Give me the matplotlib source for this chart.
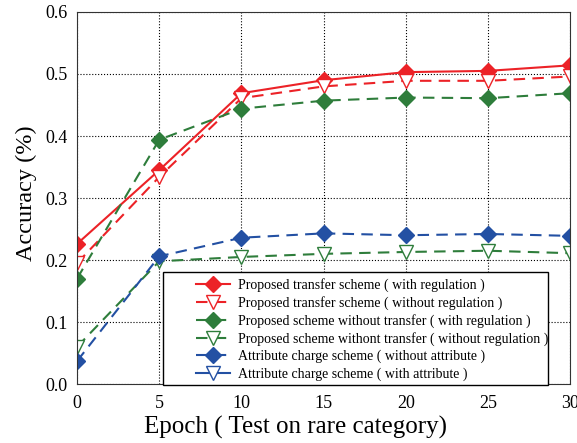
import matplotlib.pyplot as plt
from matplotlib.lines import Line2D
from matplotlib.patches import Rectangle

plt.rcParams['font.family'] = ['Liberation Serif', 'DejaVu Serif']

epochs = [0, 5, 10, 15, 20, 25, 30]
transfer_reg = [0.226, 0.345, 0.469, 0.490, 0.503, 0.505, 0.514]
transfer_noreg = [0.195, 0.334, 0.461, 0.480, 0.489, 0.489, 0.496]
notransfer_reg = [0.170, 0.394, 0.444, 0.457, 0.462, 0.461, 0.469]
notransfer_noreg = [0.060, 0.198, 0.205, 0.210, 0.213, 0.215, 0.211]
attr_without = [0.037, 0.206, 0.236, 0.243, 0.240, 0.242, 0.239]

labels = ['Proposed transfer scheme ( with regulation )',
          'Proposed transfer scheme ( without regulation )',
          'Proposed scheme without transfer ( with regulation )',
          'Proposed scheme withont transfer ( without regulation )',
          'Attribute charge scheme ( without attribute )',
          'Attribute charge scheme ( with attribute )']

red = '#ec2227'
green = '#2e7d3b'
blue = '#2350a3'
dash = (5.5, 3.5)
ms_d = 8.5
ms_v = 9.5
lw = 1.5

fig = plt.figure(figsize=(5.77, 4.43), dpi=100)
ax = fig.add_axes([0.1335, 0.133, 0.855, 0.84])

ax.plot(epochs, transfer_reg, color=red, lw=lw, marker='D', ms=ms_d,
        label=labels[0])
ax.plot(epochs, transfer_noreg, color=red, lw=lw, ls=(0, dash), marker='v', ms=ms_v,
        mfc='white', mec=red, label=labels[1])
ax.plot(epochs, notransfer_reg, color=green, lw=lw, ls=(0, dash), marker='D', ms=ms_d,
        label=labels[2])
ax.plot(epochs, notransfer_noreg, color=green, lw=lw, ls=(0, dash), marker='v', ms=ms_v,
        mfc='white', mec=green, label=labels[3])
ax.plot(epochs, attr_without, color=blue, lw=lw, ls=(0, dash), marker='D', ms=ms_d,
        label=labels[4])

handles, _ = ax.get_legend_handles_labels()
handles.append(Line2D([], [], color=blue, lw=lw, marker='v', ms=ms_v,
                      mfc='white', mec=blue))

ax.set_xlim(0, 30)
ax.set_ylim(0, 0.6)
ax.set_xticks(epochs)
ax.set_yticks([0.0, 0.1, 0.2, 0.3, 0.4, 0.5, 0.6])
ax.set_yticklabels(['0.0', '0.1', '0.2', '0.3', '0.4', '0.5', '0.6'])
ax.tick_params(labelsize=13, length=0)
ax.tick_params(axis='x', pad=8)
ax.tick_params(axis='y', pad=7)
ax.grid(True, ls=':', color='black', lw=0.8)
ax.set_axisbelow(True)
for s in ax.spines.values():
    s.set_color('#333333')

ax.set_xlabel('Epoch ( Test on rare category)', fontsize=18, labelpad=3)
ax.xaxis.label.set_x(0.442)
ax.set_ylabel('Accuracy (%)', fontsize=17.5, labelpad=6)
ax.yaxis.label.set_y(0.513)

# legend box drawn separately (text runs over its right edge in the original)
box = Rectangle((163 / 577, (443 - 385) / 443), (548 - 163) / 577, (385 - 272) / 443,
                transform=fig.transFigure, facecolor='white', edgecolor='black',
                lw=1.0, zorder=5, clip_on=False)
ax.add_patch(box)

leg = ax.legend(handles, labels, loc='upper left',
                bbox_to_anchor=(196 / 577, (443 - 278) / 443),
                bbox_transform=fig.transFigure, frameon=False,
                fontsize=10, handlelength=2.45, handletextpad=0.55,
                borderpad=0, borderaxespad=0, labelspacing=0.29)
leg.set_zorder(6)

fig.savefig('out.png', dpi=100)
